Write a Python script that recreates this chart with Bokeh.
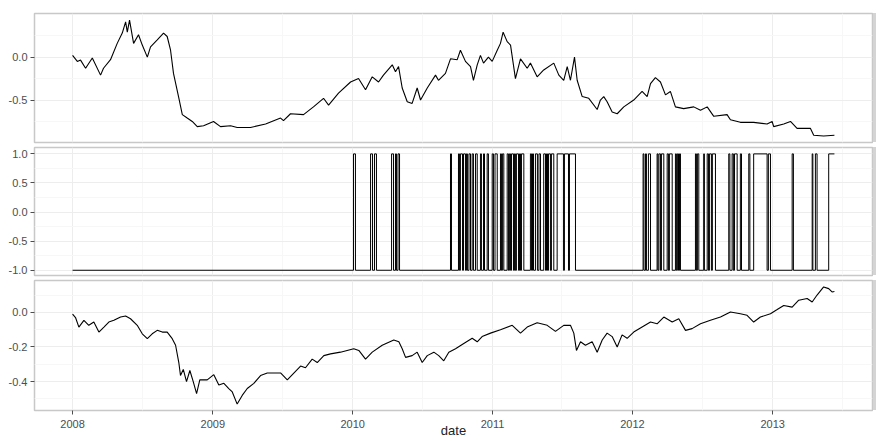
import numpy as np
import pandas as pd
from bokeh.plotting import figure
from bokeh.layouts import column, row
from bokeh.models import FixedTicker, PrintfTickFormatter, DatetimeTickFormatter, Range1d, Div
from bokeh.embed import file_html
from bokeh.resources import INLINE

# ---- data (time in years after 2008-01-01) ----
strategy_t = [0.000, 0.034, 0.057, 0.093, 0.141, 0.200, 0.221, 0.271, 0.319, 0.355, 0.379, 0.391,
              0.407, 0.436, 0.471, 0.498, 0.534, 0.557, 0.605, 0.650, 0.676, 0.700, 0.721, 0.757,
              0.784, 0.819, 0.855, 0.891, 0.936, 1.007, 1.057, 1.129, 1.176, 1.271, 1.379, 1.486,
              1.507, 1.557, 1.650, 1.721, 1.793, 1.829, 1.900, 1.986, 2.043, 2.093, 2.141, 2.186,
              2.221, 2.284, 2.307, 2.329, 2.355, 2.391, 2.426, 2.462, 2.486, 2.534, 2.593, 2.614,
              2.664, 2.700, 2.748, 2.771, 2.807, 2.843, 2.864, 2.891, 2.914, 2.936, 2.971, 2.998,
              3.034, 3.057, 3.076, 3.105, 3.129, 3.164, 3.200, 3.248, 3.271, 3.319, 3.366, 3.438,
              3.474, 3.509, 3.534, 3.557, 3.586, 3.605, 3.641, 3.688, 3.748, 3.771, 3.795, 3.819,
              3.855, 3.891, 3.938, 4.009, 4.069, 4.105, 4.129, 4.164, 4.200, 4.236, 4.271, 4.307,
              4.366, 4.438, 4.486, 4.534, 4.581, 4.676, 4.700, 4.771, 4.866, 4.962, 4.998, 5.009,
              5.081, 5.129, 5.176, 5.271, 5.295, 5.366, 5.443]
strategy_v = [0.02, -0.05, -0.035, -0.13, -0.01, -0.21, -0.13, -0.03, 0.16, 0.28, 0.41, 0.29,
              0.43, 0.16, 0.26, 0.14, 0.00, 0.12, 0.20, 0.28, 0.24, 0.08, -0.19, -0.46,
              -0.67, -0.71, -0.75, -0.81, -0.80, -0.75, -0.81, -0.80, -0.82, -0.82, -0.78, -0.71,
              -0.74, -0.66, -0.67, -0.58, -0.48, -0.56, -0.42, -0.29, -0.25, -0.38, -0.23, -0.29,
              -0.21, -0.09, -0.17, -0.11, -0.36, -0.52, -0.54, -0.36, -0.50, -0.36, -0.21, -0.27,
              -0.19, -0.02, -0.03, 0.08, -0.05, -0.11, -0.27, -0.09, 0.02, -0.07, 0.00, -0.05,
              0.08, 0.16, 0.29, 0.18, 0.14, -0.25, -0.02, -0.13, -0.07, -0.23, -0.15, -0.07,
              -0.21, -0.27, -0.11, -0.27, 0.00, -0.27, -0.46, -0.48, -0.61, -0.50, -0.46, -0.52,
              -0.64, -0.66, -0.58, -0.50, -0.40, -0.46, -0.31, -0.24, -0.29, -0.44, -0.40, -0.58,
              -0.60, -0.58, -0.62, -0.58, -0.69, -0.67, -0.73, -0.76, -0.76, -0.78, -0.75, -0.81,
              -0.78, -0.75, -0.83, -0.83, -0.91, -0.92, -0.91]

signal_on_start = [2.007, 2.129, 2.157, 2.279, 2.307, 2.325, 2.700, 2.757, 2.771, 2.793, 2.814,
                   2.832, 2.855, 2.879, 2.914, 2.936, 2.962, 2.998, 3.018, 3.057, 3.071, 3.105,
                   3.121, 3.136, 3.157, 3.171, 3.193, 3.207, 3.271, 3.286, 3.307, 3.332, 3.366,
                   3.386, 3.400, 3.421, 3.462, 3.514, 3.550, 4.076, 4.093, 4.114, 4.176, 4.189,
                   4.207, 4.248, 4.264, 4.307, 4.321, 4.336, 4.450, 4.464, 4.509, 4.534, 4.550,
                   4.571, 4.688, 4.712, 4.729, 4.771, 4.831, 4.866, 4.971, 5.141, 5.284, 5.307,
                   5.402]
signal_on_end = [2.021, 2.143, 2.171, 2.293, 2.314, 2.336, 2.707, 2.764, 2.786, 2.807, 2.821,
                 2.843, 2.864, 2.891, 2.921, 2.943, 2.971, 3.007, 3.034, 3.064, 3.081, 3.114,
                 3.129, 3.150, 3.164, 3.186, 3.200, 3.224, 3.279, 3.293, 3.321, 3.343, 3.379,
                 3.393, 3.414, 3.438, 3.507, 3.543, 3.593, 4.082, 4.100, 4.129, 4.182, 4.200,
                 4.224, 4.257, 4.284, 4.314, 4.329, 4.343, 4.457, 4.474, 4.514, 4.543, 4.564,
                 4.593, 4.696, 4.721, 4.748, 4.779, 4.839, 4.962, 4.986, 5.150, 5.289, 5.319,
                 5.443]

bench_t = [0.000, 0.021, 0.045, 0.081, 0.116, 0.152, 0.188, 0.224, 0.259, 0.295, 0.343, 0.379,
           0.414, 0.462, 0.498, 0.534, 0.569, 0.605, 0.641, 0.676, 0.712, 0.736, 0.759, 0.771,
           0.791, 0.814, 0.838, 0.862, 0.886, 0.909, 0.962, 1.009, 1.045, 1.081, 1.116, 1.141,
           1.176, 1.212, 1.248, 1.295, 1.343, 1.391, 1.486, 1.534, 1.629, 1.664, 1.712, 1.748,
           1.795, 1.843, 1.914, 2.009, 2.045, 2.093, 2.141, 2.212, 2.295, 2.331, 2.355, 2.379,
           2.426, 2.462, 2.498, 2.534, 2.581, 2.616, 2.652, 2.688, 2.736, 2.795, 2.855, 2.891,
           2.926, 2.986, 3.057, 3.141, 3.200, 3.248, 3.319, 3.391, 3.450, 3.509, 3.557, 3.581,
           3.600, 3.629, 3.664, 3.712, 3.748, 3.784, 3.819, 3.855, 3.891, 3.926, 3.962, 4.009,
           4.069, 4.129, 4.176, 4.224, 4.284, 4.331, 4.379, 4.426, 4.486, 4.557, 4.629, 4.700,
           4.771, 4.819, 4.866, 4.914, 4.986, 5.034, 5.081, 5.141, 5.188, 5.248, 5.284, 5.319,
           5.366, 5.402, 5.426, 5.443]
bench_v = [-0.01, -0.03, -0.085, -0.046, -0.075, -0.056, -0.114, -0.085, -0.056, -0.046, -0.027, -0.021,
           -0.037, -0.075, -0.124, -0.152, -0.124, -0.104, -0.114, -0.114, -0.152, -0.19, -0.29, -0.365,
           -0.33, -0.40, -0.336, -0.40, -0.47, -0.39, -0.39, -0.36, -0.42, -0.41, -0.44, -0.46,
           -0.53, -0.48, -0.44, -0.41, -0.365, -0.35, -0.35, -0.39, -0.31, -0.32, -0.27, -0.29,
           -0.25, -0.24, -0.23, -0.21, -0.22, -0.27, -0.23, -0.19, -0.16, -0.17, -0.21, -0.26,
           -0.25, -0.23, -0.29, -0.25, -0.23, -0.25, -0.28, -0.23, -0.21, -0.18, -0.15, -0.17,
           -0.14, -0.12, -0.10, -0.075, -0.12, -0.085, -0.06, -0.075, -0.11, -0.075, -0.075, -0.12,
           -0.22, -0.17, -0.19, -0.17, -0.23, -0.16, -0.12, -0.14, -0.20, -0.13, -0.15, -0.114,
           -0.085, -0.056, -0.066, -0.027, -0.056, -0.037, -0.104, -0.094, -0.066, -0.046, -0.027, 0.002,
           -0.008, -0.017, -0.056, -0.027, -0.008, 0.016, 0.04, 0.03, 0.07, 0.08, 0.06, 0.10,
           0.147, 0.137, 0.118, 0.12]

year_ticks = [2008, 2009, 2010, 2011, 2012, 2013]
x_label = "date"

# ---- helpers ----
ORIGIN = pd.Timestamp("2008-01-01")


def to_dt(t):
    return ORIGIN + pd.to_timedelta(np.asarray(t, dtype=float) * 365.25, unit="D")


def ms(ts):
    return ts.value / 1e6


sig_x = [0.0]
sig_y = [-1.0]
for i, (s, e) in enumerate(zip(signal_on_start, signal_on_end)):
    sig_x += [s, s, e]
    sig_y += [-1.0, 1.0, 1.0]
    if i < len(signal_on_start) - 1:
        sig_x.append(e)
        sig_y.append(-1.0)

x_lo, x_hi = to_dt([-0.272, 5.715])
x_range = Range1d(start=x_lo, end=x_hi)

major = [ms(pd.Timestamp(f"{y}-01-01")) for y in year_ticks]
minor = [ms(pd.Timestamp(f"{y}-07-01")) for y in range(2007, 2014)]
xticker = FixedTicker(ticks=major, minor_ticks=minor)

FONT = "Liberation Sans"
W = 873


def make_fig(height, yr, yticks, yminor, top, bottom):
    p = figure(width=W, height=height, x_axis_type="datetime", x_range=x_range,
               y_range=Range1d(*yr), output_backend="svg", toolbar_location=None,
               min_border_left=34, min_border_right=1, min_border_top=top,
               min_border_bottom=bottom, margin=0)
    p.background_fill_color = "white"
    p.border_fill_color = "white"
    p.outline_line_color = "#c8c8c8"
    p.outline_line_width = 1.5
    p.xaxis.ticker = xticker
    p.xgrid.ticker = xticker
    yt = FixedTicker(ticks=yticks, minor_ticks=yminor)
    p.yaxis.ticker = yt
    p.ygrid.ticker = yt
    p.yaxis.formatter = PrintfTickFormatter(format="%.1f")
    for g in (p.xgrid, p.ygrid):
        g.grid_line_color = "#ededed"
        g.grid_line_width = 1
        g.minor_grid_line_color = "#f7f7f7"
    for ax in (p.xaxis, p.yaxis):
        ax.axis_line_color = None
        ax.major_tick_line_color = "#4d4d4d"
        ax.major_tick_in = 0
        ax.major_tick_out = 4
        ax.minor_tick_line_color = None
        ax.minor_tick_out = 0
        ax.major_label_text_font = FONT
        ax.major_label_text_font_size = "11px"
        ax.major_label_text_color = "#4d4d4d"
        ax.major_label_standoff = 3
    return p


def strip(height, top, frame_h):
    return Div(width=3, height=frame_h, text="",
               margin=(top, 0, height - top - frame_h, 0),
               styles={"background-color": "#d4d4d4"})


p1 = make_fig(144, (-0.995, 0.508), [-0.5, 0.0], [-0.75, -0.25, 0.25], 13, 2)
p1.xaxis.visible = False
p1.line(to_dt(strategy_t), strategy_v, line_color="black", line_width=1.1)

p2 = make_fig(133, (-1.09, 1.11), [-1.0, -0.5, 0.0, 0.5, 1.0], [-0.75, -0.25, 0.25, 0.75], 3, 2)
p2.xaxis.visible = False
p2.line(to_dt(sig_x), sig_y, line_color="black", line_width=1.0)

p3 = make_fig(164, (-0.567, 0.184), [-0.4, -0.2, 0.0], [-0.5, -0.3, -0.1, 0.1], 3, 31)
p3.line(to_dt(bench_t), bench_v, line_color="black", line_width=1.1)
p3.xaxis.formatter = DatetimeTickFormatter(years="%Y", months="%Y", days="%Y", hours="%Y",
                                           minutes="%Y", seconds="%Y", milliseconds="%Y",
                                           microseconds="%Y")
p3.xaxis.major_label_standoff = 5
p3.xaxis.axis_label = x_label
p3.xaxis.axis_label_text_font = FONT
p3.xaxis.axis_label_text_font_size = "13px"
p3.xaxis.axis_label_text_font_style = "normal"
p3.xaxis.axis_label_text_color = "#222222"
p3.xaxis.axis_label_standoff = -8

layout = column(row(p1, strip(144, 13, 129), spacing=0, margin=0),
                row(p2, strip(133, 3, 128), spacing=0, margin=0),
                row(p3, strip(164, 3, 130), spacing=0, margin=0),
                spacing=0, margin=0)

open("out.html", "w").write(file_html(layout, INLINE))
